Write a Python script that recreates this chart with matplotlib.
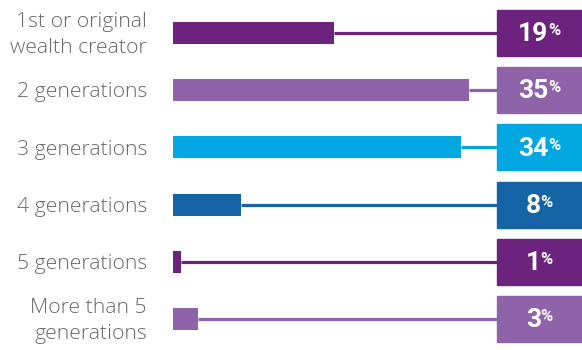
import matplotlib
matplotlib.use('Agg')
import matplotlib.pyplot as plt
from matplotlib.patches import Rectangle

# Data
categories = ['1st or original\nwealth creator', '2 generations', '3 generations',
              '4 generations', '5 generations', 'More than 5\ngenerations']
values = [19, 35, 34, 8, 1, 3]
colors = ['#6B237E', '#8F63A9', '#00A7E0', '#1565A6', '#6B237E', '#8F63A9']

W, H = 582, 350
PX_PER_PCT = 8.46
X0 = 173          # pixel where bars start
ROW0 = 33         # pixel centre of first row
ROW_STEP = 57.2
BOX_LEFT = 497

fig = plt.figure(figsize=(W / 100, H / 100), dpi=100)
ax = fig.add_axes([X0 / W, 0, 1 - X0 / W, 1])
ax.set_xlim(0, (W - X0) / PX_PER_PCT)
ax.set_ylim((H - ROW0) / ROW_STEP, -ROW0 / ROW_STEP)
ax.axis('off')

box_x = (BOX_LEFT - X0) / PX_PER_PCT
box_w = (W - BOX_LEFT) / PX_PER_PCT + 1
box_h = 46 / ROW_STEP
bar_h = 22 / ROW_STEP
label_x = (147 - X0) / PX_PER_PCT
box_cx = box_x + (W - BOX_LEFT) / PX_PER_PCT / 2

num_texts = []
for i, (cat, v, c) in enumerate(zip(categories, values, colors)):
    ax.barh(i, v, height=bar_h, color=c, left=0)
    ax.plot([v, box_x], [i, i], color=c, lw=2.3, solid_capstyle='butt')
    ax.add_patch(Rectangle((box_x, i - box_h / 2), box_w, box_h, color=c, clip_on=False))
    ax.text(label_x, i + 0.04, cat, ha='right', va='center', color='#66676a',
            fontsize=15.2, family='Open Sans', fontweight='light', linespacing=1.4)
    t = ax.text(box_cx, i + 0.02, str(v), ha='center', va='center', color='white',
                fontsize=19, family='Roboto', fontweight='bold')
    num_texts.append(t)

# place the superscript % right after each number, centring the pair in the box
fig.canvas.draw()
r = fig.canvas.get_renderer()
inv = ax.transData.inverted()
for i, t in enumerate(num_texts):
    p = ax.text(0, 0, '%', ha='left', va='top', color='white', fontsize=12,
                family='Roboto', fontweight='bold')
    bb = t.get_window_extent(r)
    pb = p.get_window_extent(r)
    shift = pb.width / 2
    cx_disp = ax.transData.transform((box_cx, i))[0]
    t.set_x(inv.transform((cx_disp - shift, 0))[0])
    right = cx_disp - shift + bb.width / 2
    top = bb.y1 - 1
    px, py = inv.transform((right - 0.5, top))
    p.set_position((px, py))

fig.savefig('out.png', dpi=100)
